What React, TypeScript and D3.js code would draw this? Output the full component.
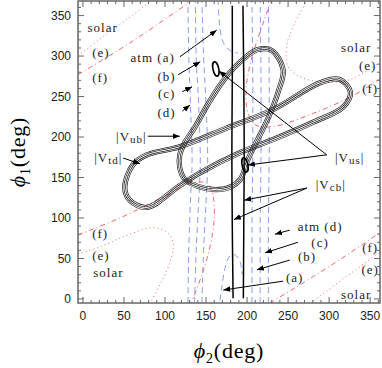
import React from "react";
import * as d3 from "d3";

type P = [number, number];

const W = 382;
const H = 368;

const majorTicks = [0, 50, 100, 150, 200, 250, 300, 350];
const minorTicks = d3.range(0, 361, 10);

// |Vcb| contours (solid black, near vertical)
const vcbLeft: P[] = [[183, 1], [182, 90], [181.5, 180], [182, 270], [182, 362]];
const vcbRight: P[] = [[195.5, 1], [196, 90], [196.5, 180], [196, 270], [195, 362]];

// |Vub| and |Vtd| bands (closed loops)
const vubLoop: P[] = [
  [118, 162], [118, 178], [124, 193], [137, 213], [152, 240], [172, 271], [194, 295],
  [213, 308], [230, 307], [244, 283], [238, 256], [226, 224], [213, 197], [201, 172],
  [192, 148], [179, 138], [161, 135], [140, 139], [124, 148],
];
const vtdLoop: P[] = [
  [51, 138], [61, 166], [78, 178], [118, 188], [175, 211], [232, 234], [289, 267],
  [313, 271], [326, 255], [317, 237], [280, 218], [232, 197], [192, 181], [143, 156],
  [118, 140], [78, 113], [57, 122],
];

// |Vus| small ellipses: centre (deg)
const vusSpots: [number, number][] = [[162, 284], [197.5, 165.5]];

// atmospheric contours (blue dashed)
const atmLines: P[][] = [
  [[128, -5], [129, 60], [131, 120], [133, 170], [131, 240], [129, 300], [128, 368]],
  [[136, -5], [138, 60], [141, 120], [143, 170], [141, 240], [138, 300], [137, 368]],
  [[145, -5], [147, 60], [150, 120], [152, 170], [150, 240], [147, 300], [145, 368]],
  [[206, -5], [206, 90], [207, 180], [207, 270], [206, 368]],
  [[216, -5], [216, 90], [217, 180], [217, 270], [216, 368]],
  [[226, -5], [226, 90], [227, 180], [227, 270], [226, 368]],
];
const atmTopA: P[] = [[164.6, 370], [166, 345], [168.3, 326], [173.2, 312.7], [181.7, 305.3], [189, 304]];
const atmBottomA: P[] = [[167, -2], [169.5, 17], [173.2, 38], [179, 53], [185.4, 54.4], [191.5, 45.7], [194, 30]];

// solar contours: (e) dotted, (f) dash-dot
const solarE: P[][] = [
  [[-6, 300], [30, 328], [60, 350], [82, 368]],
  [[277, -5], [320, 27], [362, 58]],
  [[-6, 56], [20, 64], [50, 77], [85, 88], [103, 82], [110, 68], [106, 45], [95, 20], [82, -5]],
  [[362, 292], [340, 278], [322, 270], [293, 268], [265, 274], [250, 287], [249, 316], [258, 340], [273, 368]],
];
const solarF: P[][] = [
  [[-6, 277], [60, 318], [132, 368]],
  [[228, -5], [300, 40], [362, 82]],
  [[-6, 79], [45, 100], [90, 122], [133, 143], [151, 143], [158, 130], [160, 100], [155, 65], [145, 30], [132, -5]],
  [[362, 272], [329, 251], [280, 229], [232, 213], [210, 215], [201, 230], [199, 260], [205, 295], [216, 330], [229, 368]],
];

// annotation labels [x, y, text, subscript]
const labels: [number, number, string, string][] = [
  [24, 335, "solar", ""], [22, 305, "(e)", ""], [21, 274, "(f)", ""],
  [85, 298, "atm (a)", ""], [102, 275, "(b)", ""], [102, 254, "(c)", ""], [102, 230, "(d)", ""],
  [59, 201, "|V", "ub"], [31, 175, "|V", "td"],
  [333, 311, "solar", ""], [347, 289, "(e)", ""], [350, 260, "(f)", ""],
  [325, 175, "|V", "us"], [302, 141, "|V", "cb"],
  [289, 89, "atm (d)", ""], [289, 70, "(c)", ""], [273, 52, "(b)", ""], [258, 27, "(a)", ""],
  [350, 63, "(f)", ""], [350, 36, "(e)", ""], [333, 5, "solar", ""],
  [21, 81, "(f)", ""], [22, 54, "(e)", ""], [31, 33, "solar", ""],
];
const arrows: [P, P][] = [
  [[118, 299], [163, 332]], [[116, 277], [143, 293]], [[121, 256], [133, 262]], [[121, 232], [130.5, 239.5]],
  [[79, 201], [118, 201]], [[49, 174], [69.5, 167]],
  [[297, 178], [165.8, 281.5]], [[297, 178], [201, 165.4]],
  [[273, 137], [196.5, 122]], [[273, 137], [184, 98]],
  [[252, 85], [234, 80]], [[262, 70], [222, 57]], [[252, 48], [212, 36]], [[244, 22], [171, 11]],
];

const x = d3.scaleLinear().domain([-6, 362]).range([78, 380]);
const y = d3.scaleLinear().domain([-5, 368]).range([303, 1]);

const open = d3.line<P>().x((d) => x(d[0])).y((d) => y(d[1])).curve(d3.curveCatmullRom.alpha(0.5));
const closed = d3.line<P>().x((d) => x(d[0])).y((d) => y(d[1])).curve(d3.curveCatmullRomClosed.alpha(0.5));

const RED = "#f26a6a";
const BLUE = "#8c9cf2";
const AX = "#666";
const serif = "'Liberation Serif', 'Times New Roman', serif";
const sans = "'Liberation Sans', Arial, sans-serif";

// four thin parallel contour lines drawn as a masked band
function Band({ id, d }: { id: string; d: string }) {
  return (
    <g>
      <mask id={id} maskUnits="userSpaceOnUse" x={0} y={0} width={W} height={H}>
        <path d={d} fill="none" stroke="white" strokeWidth={5.2} />
        <path d={d} fill="none" stroke="black" strokeWidth={3.8} />
        <path d={d} fill="none" stroke="white" strokeWidth={2.4} />
        <path d={d} fill="none" stroke="black" strokeWidth={1.0} />
      </mask>
      <rect x={0} y={0} width={W} height={H} fill="#222" mask={`url(#${id})`} />
    </g>
  );
}

export default function App() {
  const [x0, x1] = x.range();
  const [y0, y1] = y.range();
  return (
    <svg width={W} height={H} style={{ display: "block", position: "absolute", left: 0, top: 0, background: "#fff" }}>
      <defs>
        <clipPath id="plot">
          <rect x={x0} y={y1} width={x1 - x0} height={y0 - y1} />
        </clipPath>
        <marker id="ah" viewBox="0 0 10 10" refX={10} refY={5} markerWidth={7} markerHeight={7} orient="auto" markerUnits="userSpaceOnUse">
          <path d="M0,1 L10,5 L0,9 z" fill="#000" />
        </marker>
      </defs>

      <g clipPath="url(#plot)">
        {atmLines.map((l, i) => (
          <path key={"b" + i} d={open(l) || ""} fill="none" stroke={BLUE} strokeWidth={1} strokeDasharray="6,4" />
        ))}
        <path d={open(atmTopA) || ""} fill="none" stroke={BLUE} strokeWidth={1} strokeDasharray="6,4" />
        <path d={open(atmBottomA) || ""} fill="none" stroke={BLUE} strokeWidth={1} strokeDasharray="6,4" />
        {solarE.map((l, i) => (
          <path key={"e" + i} d={open(l) || ""} fill="none" stroke={RED} strokeWidth={1} strokeDasharray="1,3" />
        ))}
        {solarF.map((l, i) => (
          <path key={"f" + i} d={open(l) || ""} fill="none" stroke={RED} strokeWidth={1} strokeDasharray="5,3,1,3" />
        ))}
        <path d={open(vcbLeft) || ""} fill="none" stroke="#000" strokeWidth={1.5} />
        <path d={open(vcbRight) || ""} fill="none" stroke="#000" strokeWidth={1.5} />
        <Band id="vub" d={closed(vubLoop) || ""} />
        <Band id="vtd" d={closed(vtdLoop) || ""} />
        {vusSpots.map(([cx, cy], i) => (
          <ellipse key={"s" + i} cx={x(cx)} cy={y(cy)} rx={x(cx + 3.5) - x(cx)} ry={y(cy) - y(cy + 9)}
            transform={`rotate(-12 ${x(cx)} ${y(cy)})`} fill="none" stroke="#000" strokeWidth={1.6} />
        ))}
      </g>

      {/* frame and ticks */}
      <rect x={x0} y={y1} width={x1 - x0} height={y0 - y1} fill="none" stroke={AX} strokeWidth={1.5} />
      {minorTicks.map((t) => {
        const len = t % 50 === 0 ? 6 : 3;
        return (
          <g key={"t" + t} stroke={AX} strokeWidth={1}>
            <line x1={x(t)} x2={x(t)} y1={y0} y2={y0 - len} />
            <line x1={x(t)} x2={x(t)} y1={y1} y2={y1 + len} />
            <line x1={x0} x2={x0 + len} y1={y(t)} y2={y(t)} />
            <line x1={x1} x2={x1 - len} y1={y(t)} y2={y(t)} />
          </g>
        );
      })}
      {majorTicks.map((t) => (
        <text key={"xl" + t} x={x(t)} y={320} textAnchor="middle" fontFamily={sans} fontSize={12} fill="#222">{t}</text>
      ))}
      {majorTicks.map((t) => (
        <text key={"yl" + t} x={71} y={y(t)} dy="0.35em" textAnchor="end" fontFamily={sans} fontSize={12} fill="#222">{t}</text>
      ))}

      <text x={(x0 + x1) / 2} y={358} textAnchor="middle" fontFamily={serif} fontSize={22} letterSpacing={0.8} fill="#000">
        <tspan fontStyle="italic">ϕ</tspan>
        <tspan fontSize={14} dy={5}>2</tspan>
        <tspan dy={-5}>(deg)</tspan>
      </text>
      <text transform={`translate(25, ${(y0 + y1) / 2}) rotate(-90)`} textAnchor="middle" fontFamily={serif} fontSize={22} letterSpacing={0.8} fill="#000">
        <tspan fontStyle="italic">ϕ</tspan>
        <tspan fontSize={14} dy={5}>1</tspan>
        <tspan dy={-5}>(deg)</tspan>
      </text>

      {/* annotations */}
      {arrows.map(([a, b], i) => (
        <line key={"a" + i} x1={x(a[0])} y1={y(a[1])} x2={x(b[0])} y2={y(b[1])} stroke="#000" strokeWidth={1} markerEnd="url(#ah)" />
      ))}
      {labels.map(([lx, ly, t, sub], i) => (
        <text key={"l" + i} x={x(lx)} y={y(ly)} dy="0.35em" textAnchor="middle" fontFamily={serif} fontSize={13} letterSpacing={1} fill="#222">
          {t}
          {sub && <tspan fontSize={11} dy={2}>{sub}</tspan>}
          {sub && <tspan dy={-2}>|</tspan>}
        </text>
      ))}
    </svg>
  );
}
